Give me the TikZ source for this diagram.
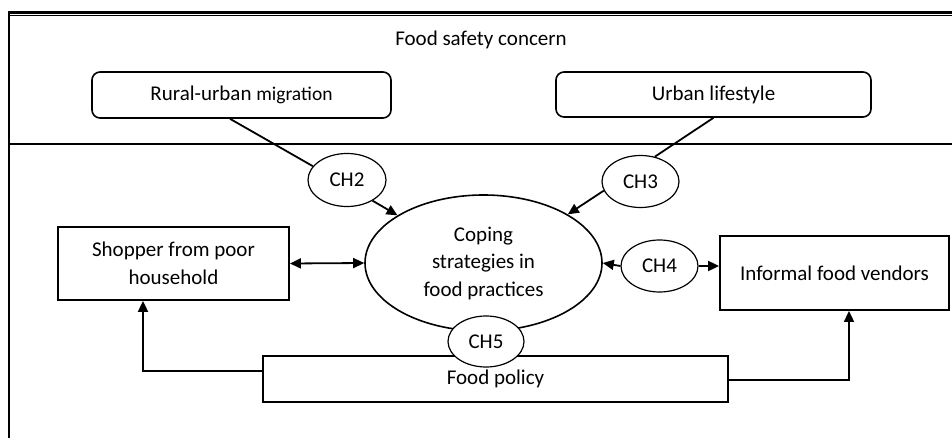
\documentclass[tikz,border=0pt]{standalone}
\usepackage{fontspec}
\setmainfont{Carlito}
\usetikzlibrary{arrows.meta,shapes.geometric}

\tikzset{
  txt/.style={font=\fontsize{21}{27.5}\selectfont},
  roundbox/.style={txt, draw, line width=1.6pt, rounded corners=8pt, inner sep=0pt},
  plainbox/.style={txt, draw, line width=1.8pt, inner sep=0pt, align=center},
  chap/.style={txt, draw, ellipse, line width=1.2pt, fill=white, inner sep=0pt,
               minimum width=77pt, minimum height=52pt},
  link/.style={line width=1.8pt},
  arrowlink/.style={link, -{Triangle[length=11pt,width=10pt]}},
  twoway/.style={link, {Triangle[length=11pt,width=10pt]}-{Triangle[length=11pt,width=10pt]}}
}

\begin{document}
\begin{tikzpicture}[x=1pt, y=-1pt]
\useasboundingbox (0,0) rectangle (952,438);

% outer frame: heavy double rule on top, open on the right and bottom
\draw[line width=3pt] (8,12.5) -- (952,12.5);
\draw[line width=1pt] (8,15.8) -- (952,15.8);
\draw[line width=2.5pt] (9.2,11) -- (9.2,438);
% rule separating the context band
\draw[line width=1.5pt] (9,144) -- (952,144);

\node[txt] (title) at (481,40) {Food safety concern};

% context factors
\node[roundbox, minimum width=299pt, minimum height=46pt] (rural) at (241.5,95)
  {Rural-urban {\fontsize{19.5}{24}\selectfont migration}};
\node[roundbox, minimum width=315pt, minimum height=45pt] (urban) at (713.5,94.5)
  {Urban lifestyle};

% central concept
\node[txt, draw, ellipse, line width=1.6pt, inner sep=0pt, align=center,
      minimum width=237pt, minimum height=136pt] (coping) at (483.5,263)
  {Coping\\strategies in\\food practices};

% actors
\node[plainbox, minimum width=231pt, minimum height=73pt] (shopper) at (173.5,263.5)
  {Shopper from poor\\household};
\node[plainbox, minimum width=229pt, minimum height=74pt] (vendors) at (834.5,273)
  {Informal food vendors};
\node[plainbox, minimum width=465pt, minimum height=46pt] (policy) at (495.5,379)
  {Food policy};

% chapter markers
\node[chap, minimum width=78pt, minimum height=53pt] (ch2) at (347,180) {CH2};
\node[chap] (ch3) at (640.5,181.5) {CH3};
\node[chap] (ch4) at (659.5,266) {CH4};
\node[chap, minimum width=76pt, minimum height=51pt] (ch5) at (486,341.5) {CH5};

% connectors
\draw[link] ([xshift=-11.5pt]rural.south) -- (ch2.158);
\draw[arrowlink] (ch2.-39) -- (coping.151);
\draw[link] (urban.south) -- (ch3.60);
\draw[arrowlink] (ch3.194) -- (coping.30);
\draw[twoway] (shopper.east) -- (coping.west);
\draw[arrowlink] (ch4.west) -- (coping.east);
\draw[arrowlink] (ch4.east) -- (ch4.east -| vendors.west);
\draw[arrowlink] ([yshift=8pt]policy.west) -| ([xshift=-30.5pt]shopper.south);
\draw[arrowlink] ([yshift=-1pt]policy.east) -| ([xshift=14.5pt]vendors.south);
\end{tikzpicture}
\end{document}
